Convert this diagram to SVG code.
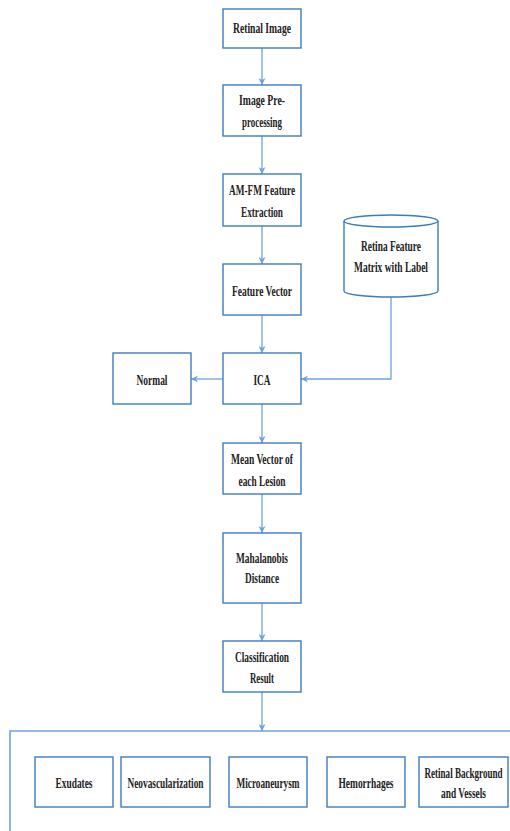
<svg xmlns="http://www.w3.org/2000/svg" width="510" height="831" viewBox="0 0 510 831">
<defs>
<style>
.box{fill:#fff;stroke:#3c7cbf;stroke-width:1.4}
.ln{fill:none;stroke:#6ea3dc;stroke-width:1.3}
.t{font-family:"Liberation Serif","Times New Roman",serif;font-weight:bold;font-size:14px;fill:#222;text-anchor:middle}
</style>
<marker id="ah" viewBox="0 0 10 10" refX="10" refY="5" markerWidth="7" markerHeight="7" orient="auto" markerUnits="userSpaceOnUse">
<path d="M0,0 L10,5 L0,10 L3,5 Z" fill="#6ea3dc"/>
</marker>
</defs>
<rect width="510" height="831" fill="#fff"/>
<g id="connectors">
<line class="ln" x1="262" y1="48" x2="262" y2="85" marker-end="url(#ah)"/>
<line class="ln" x1="262" y1="136" x2="262" y2="174" marker-end="url(#ah)"/>
<line class="ln" x1="262" y1="226" x2="262" y2="264" marker-end="url(#ah)"/>
<line class="ln" x1="262" y1="315" x2="262" y2="353" marker-end="url(#ah)"/>
<polyline class="ln" points="391,297 391,379 301,379" marker-end="url(#ah)"/>
<line class="ln" x1="223" y1="379" x2="191" y2="379" marker-end="url(#ah)"/>
<line class="ln" x1="262" y1="404" x2="262" y2="443" marker-end="url(#ah)"/>
<line class="ln" x1="262" y1="494" x2="262" y2="533" marker-end="url(#ah)"/>
<line class="ln" x1="262" y1="603" x2="262" y2="641" marker-end="url(#ah)"/>
<line class="ln" x1="262" y1="692" x2="262" y2="731" marker-end="url(#ah)"/>
<path class="ln" d="M510,731 H10 V831" style="stroke-width:1.6"/>
</g>
<g id="retinal-image"><rect class="box" x="223" y="9" width="78" height="39"/><text class="t" x="262" y="33" textLength="58" lengthAdjust="spacingAndGlyphs">Retinal Image</text></g>
<g id="preprocessing"><rect class="box" x="223" y="85" width="78" height="51"/><text class="t" x="262" y="105" textLength="46" lengthAdjust="spacingAndGlyphs">Image Pre-</text><text class="t" x="262" y="127" textLength="40" lengthAdjust="spacingAndGlyphs">processing</text></g>
<g id="amfm"><rect class="box" x="223" y="174" width="78" height="52"/><text class="t" x="262" y="195" textLength="66" lengthAdjust="spacingAndGlyphs">AM-FM Feature</text><text class="t" x="262" y="217" textLength="42" lengthAdjust="spacingAndGlyphs">Extraction</text></g>
<g id="feature-vector"><rect class="box" x="223" y="264" width="78" height="51"/><text class="t" x="262" y="296" textLength="60" lengthAdjust="spacingAndGlyphs">Feature Vector</text></g>
<g id="database">
<path class="box" d="M344,221 A47,6 0 0,1 438,221 V291 A47,6 0 0,1 344,291 Z"/>
<path class="box" style="fill:none" d="M344,221 A47,6 0 0,0 438,221"/>
<text class="t" x="391" y="251" textLength="60" lengthAdjust="spacingAndGlyphs">Retina Feature</text>
<text class="t" x="391" y="272" textLength="74" lengthAdjust="spacingAndGlyphs">Matrix with Label</text>
</g>
<g id="ica"><rect class="box" x="223" y="353" width="78" height="51"/><text class="t" x="262" y="385" textLength="17" lengthAdjust="spacingAndGlyphs">ICA</text></g>
<g id="normal"><rect class="box" x="113" y="353" width="78" height="51"/><text class="t" x="152" y="385" textLength="31" lengthAdjust="spacingAndGlyphs">Normal</text></g>
<g id="mean-vector"><rect class="box" x="223" y="443" width="78" height="51"/><text class="t" x="262" y="464" textLength="62" lengthAdjust="spacingAndGlyphs">Mean Vector of</text><text class="t" x="262" y="486" textLength="47" lengthAdjust="spacingAndGlyphs">each Lesion</text></g>
<g id="mahalanobis"><rect class="box" x="223" y="533" width="78" height="70"/><text class="t" x="262" y="563" textLength="52" lengthAdjust="spacingAndGlyphs">Mahalanobis</text><text class="t" x="262" y="583" textLength="34" lengthAdjust="spacingAndGlyphs">Distance</text></g>
<g id="classification"><rect class="box" x="223" y="641" width="78" height="51"/><text class="t" x="262" y="662" textLength="54" lengthAdjust="spacingAndGlyphs">Classification</text><text class="t" x="262" y="683" textLength="24" lengthAdjust="spacingAndGlyphs">Result</text></g>
<g id="exudates"><rect class="box" x="35" y="757" width="78" height="50"/><text class="t" x="74" y="788" textLength="37" lengthAdjust="spacingAndGlyphs">Exudates</text></g>
<g id="neovascularization"><rect class="box" x="121" y="757" width="89" height="50"/><text class="t" x="165.5" y="788" textLength="76" lengthAdjust="spacingAndGlyphs">Neovascularization</text></g>
<g id="microaneurysm"><rect class="box" x="229" y="757" width="78" height="50"/><text class="t" x="268" y="788" textLength="63" lengthAdjust="spacingAndGlyphs">Microaneurysm</text></g>
<g id="hemorrhages"><rect class="box" x="327" y="757" width="78" height="50"/><text class="t" x="366" y="788" textLength="55" lengthAdjust="spacingAndGlyphs">Hemorrhages</text></g>
<g id="retinal-background"><rect class="box" x="419" y="757" width="89" height="50"/><text class="t" x="463.5" y="778" textLength="78" lengthAdjust="spacingAndGlyphs">Retinal Background</text><text class="t" x="463.5" y="798" textLength="45" lengthAdjust="spacingAndGlyphs">and Vessels</text></g>
</svg>
